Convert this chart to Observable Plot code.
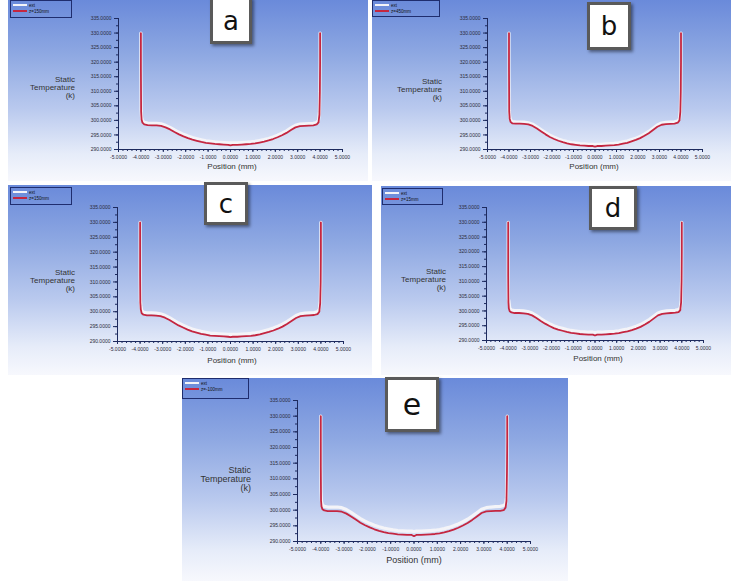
<!DOCTYPE html>
<html>
<head>
<meta charset="utf-8">
<script src="https://cdn.jsdelivr.net/npm/d3@7"></script>
<script src="https://cdn.jsdelivr.net/npm/@observablehq/plot@0.6"></script>
<style>
  html, body { margin: 0; padding: 0; background: #ffffff; }
  body { width: 731px; height: 581px; position: relative; overflow: hidden; font-family: "Liberation Sans", Arial, sans-serif; }
  .panel { position: absolute; background: linear-gradient(180deg, #6a8ada 0%, #8ea8e2 30%, #b9c9ee 60%, #e6ecf9 85%, #f7f8fd 100%); overflow: visible; }
  .panel svg { position: absolute; left: 0; top: 0; overflow: visible; }
  .ylab { position: absolute; text-align: right; color: #333; line-height: 1.0; }
  .xlab { position: absolute; color: #333; transform: translateX(-50%); white-space: nowrap; }
  .legend { position: absolute; border: 1px solid #1f2d6e; box-sizing: border-box; }
  .legend .row { position: absolute; left: 2px; height: 6px; display: flex; align-items: center; font-size: 4.5px; color: #111; white-space: nowrap; }
  .legend .sw { display: inline-block; width: 14px; height: 2px; margin-right: 2px; }
  .tag { position: absolute; background: #fff; border: 3px solid #5a5a5a; box-sizing: border-box; box-shadow: 2px 2px 3px rgba(0,0,0,0.45); display: flex; align-items: center; justify-content: center; font-family: "DejaVu Sans", sans-serif; color: #111; }
</style>
</head>
<body>
<script>
// ---- data ----
const positions = [-4.00, -4.00, -3.99, -3.97, -3.93, -3.85, -3.7, -3.5, -3.3, -3.1, -2.9, -2.7, -2.5, -2.3, -2.1, -1.9, -1.7, -1.5, -1.3, -1.1, -0.9, -0.7, -0.5, -0.3, -0.1, 0.0, 0.1, 0.3, 0.5, 0.7, 0.9, 1.1, 1.3, 1.5, 1.7, 1.9, 2.1, 2.3, 2.5, 2.7, 2.9, 3.1, 3.3, 3.5, 3.7, 3.85, 3.93, 3.97, 3.99, 4.00, 4.00];

const aRed   = [330, 318, 303, 300.3, 299.2, 298.6, 298.4, 298.3, 298.3, 298.1, 297.6, 296.9, 296.0, 295.2, 294.5, 293.9, 293.4, 293.0, 292.6, 292.3, 292.1, 291.9, 291.8, 291.7, 291.6, 291.4, 291.6, 291.6, 291.7, 291.8, 291.9, 292.1, 292.4, 292.7, 293.1, 293.6, 294.2, 294.9, 295.7, 296.7, 297.6, 298.0, 298.1, 298.2, 298.3, 298.6, 299.3, 302, 310, 320, 330];
const aWhite = [330, 318, 303.5, 301, 299.9, 299.3, 299.1, 299.0, 299.0, 298.8, 298.3, 297.6, 296.7, 295.9, 295.2, 294.6, 294.1, 293.7, 293.3, 293.0, 292.8, 292.6, 292.5, 292.4, 292.3, 292.3, 292.3, 292.3, 292.4, 292.5, 292.6, 292.8, 293.1, 293.4, 293.8, 294.3, 294.9, 295.6, 296.4, 297.4, 298.3, 298.7, 298.8, 298.9, 299.0, 299.3, 300, 303, 310, 320, 330];

const bRed   = [330, 318, 303, 300.6, 299.5, 299.0, 298.9, 298.9, 298.8, 298.6, 298.1, 297.2, 296.2, 295.2, 294.3, 293.6, 293.0, 292.5, 292.1, 291.8, 291.6, 291.4, 291.3, 291.2, 291.2, 291.0, 291.2, 291.2, 291.3, 291.4, 291.5, 291.7, 292.0, 292.3, 292.8, 293.3, 293.9, 294.7, 295.6, 296.7, 297.8, 298.5, 298.7, 298.8, 298.9, 299.2, 300, 303, 310, 320, 330];
const bWhite = [330, 318, 303.5, 301.5, 300.2, 299.6, 299.5, 299.4, 299.4, 299.2, 298.7, 297.8, 296.8, 295.8, 294.9, 294.2, 293.6, 293.1, 292.7, 292.4, 292.2, 292.0, 291.9, 291.8, 291.8, 291.7, 291.8, 291.8, 291.9, 292.0, 292.1, 292.3, 292.6, 292.9, 293.4, 293.9, 294.5, 295.3, 296.2, 297.3, 298.4, 299.1, 299.3, 299.4, 299.5, 299.8, 300.6, 303.5, 310, 320, 330];

const cRed   = [330, 312, 303, 300.8, 299.5, 299.0, 298.8, 298.8, 298.7, 298.5, 298.0, 297.2, 296.3, 295.4, 294.7, 294.0, 293.4, 293.0, 292.6, 292.3, 292.0, 291.9, 291.8, 291.7, 291.6, 291.5, 291.6, 291.6, 291.7, 291.8, 291.9, 292.1, 292.4, 292.8, 293.2, 293.7, 294.3, 295.0, 295.9, 296.9, 297.9, 298.5, 298.7, 298.8, 298.9, 299.2, 300, 303, 310, 320, 330];
const cWhite = [330, 312, 304, 302.2, 300.5, 299.8, 299.6, 299.6, 299.5, 299.3, 298.8, 298.0, 297.1, 296.2, 295.5, 294.8, 294.2, 293.8, 293.4, 293.1, 292.8, 292.7, 292.6, 292.5, 292.4, 292.4, 292.4, 292.4, 292.5, 292.6, 292.7, 292.9, 293.2, 293.6, 294.0, 294.5, 295.1, 295.8, 296.7, 297.7, 298.7, 299.3, 299.5, 299.6, 299.7, 300.0, 300.8, 303.5, 310, 320, 330];

const dRed   = [330, 312, 303, 300.8, 299.9, 299.5, 299.3, 299.3, 299.2, 299.0, 298.5, 297.6, 296.6, 295.7, 294.9, 294.2, 293.7, 293.3, 292.9, 292.6, 292.4, 292.2, 292.1, 292.0, 292.0, 291.7, 292.0, 292.0, 292.1, 292.2, 292.3, 292.5, 292.8, 293.1, 293.5, 294.0, 294.6, 295.4, 296.3, 297.4, 298.5, 299.0, 299.2, 299.3, 299.4, 299.6, 300.3, 303, 310, 320, 330];
const dWhite = [330, 312, 304, 303.5, 301, 300.3, 300.1, 300.1, 300.0, 299.8, 299.3, 298.4, 297.4, 296.5, 295.7, 295.0, 294.5, 294.1, 293.7, 293.4, 293.2, 293.0, 292.9, 292.8, 292.8, 292.7, 292.8, 292.8, 292.9, 293.0, 293.1, 293.3, 293.6, 293.9, 294.3, 294.8, 295.4, 296.2, 297.1, 298.2, 299.3, 299.8, 300.0, 300.1, 300.2, 300.5, 301, 303.5, 310, 320, 330];

const eRed   = [330, 314, 303, 301.2, 300.3, 299.9, 299.7, 299.7, 299.7, 299.5, 298.9, 298.0, 297.0, 296.0, 295.2, 294.5, 293.9, 293.4, 293.0, 292.7, 292.5, 292.3, 292.2, 292.1, 292.1, 291.7, 292.1, 292.1, 292.2, 292.3, 292.4, 292.6, 292.9, 293.3, 293.8, 294.4, 295.1, 295.9, 296.9, 298.0, 299.1, 299.6, 299.7, 299.8, 299.8, 300.0, 300.8, 303, 312, 322, 330];
const eWhite = [330, 314, 306, 302.8, 301.6, 301.2, 301.0, 301.0, 301.0, 300.8, 300.2, 299.3, 298.3, 297.3, 296.5, 295.8, 295.2, 294.7, 294.3, 294.0, 293.7, 293.5, 293.4, 293.3, 293.3, 293.2, 293.3, 293.3, 293.4, 293.5, 293.6, 293.8, 294.1, 294.5, 295.0, 295.6, 296.3, 297.1, 298.1, 299.2, 300.3, 300.8, 301.0, 301.1, 301.2, 301.5, 302, 304, 312, 322, 330];

const panelLetters = ["a", "b", "c", "d", "e"];
const seriesNames = ["ext", "z=150mm"];
const legendSecond = ["z=150mm", "z=450mm", "z=150mm", "z=15mm", "z=-100mm"];
const yTicks = [290, 295, 300, 305, 310, 315, 320, 325, 330, 335];
const xTicks = [-5, -4, -3, -2, -1, 0, 1, 2, 3, 4, 5];
const yTitleLines = ["Static", "Temperature", "(k)"];
const xTitle = "Position (mm)";

// ---- layout (positions/styles only) ----
const layouts = [
  {red: aRed, white: aWhite, left: 8, top: 0, w: 360, h: 181, mL: 110, mR: 26, mT: 18, mB: 32, ylabR: 67, ylabT: 76, ylabFs: 8, xlabX: 224, xlabY: 162, xlabFs: 8, leg: [2, 0, 62, 18], tag: [202, -3, 42, 47, 26]},
  {red: bRed, white: bWhite, left: 372, top: 0, w: 359, h: 181, mL: 115, mR: 29, mT: 18, mB: 32, ylabR: 70, ylabT: 78, ylabFs: 8, xlabX: 222, xlabY: 162, xlabFs: 8, leg: [0, 0, 68, 17], tag: [215, 2, 44, 48, 26]},
  {red: cRed, white: cWhite, left: 8, top: 185, w: 364, h: 190, mL: 109, mR: 29, mT: 22, mB: 34, ylabR: 67, ylabT: 84, ylabFs: 8, xlabX: 224, xlabY: 171, xlabFs: 8, leg: [2, 2, 62, 18], tag: [196, -3, 44, 43, 26]},
  {red: dRed, white: dWhite, left: 381, top: 186, w: 350, h: 189, mL: 105, mR: 28, mT: 21, mB: 35, ylabR: 65, ylabT: 82, ylabFs: 8, xlabX: 217, xlabY: 168, xlabFs: 8, leg: [1, 2, 61, 17], tag: [208, 0, 48, 44, 26]},
  {red: eRed, white: eWhite, left: 182, top: 378, w: 386, h: 203, mL: 115, mR: 38, mT: 22, mB: 40, ylabR: 69, ylabT: 88, ylabFs: 9, xlabX: 232, xlabY: 177, xlabFs: 9, leg: [0, 0, 67, 21], tag: [203, -1, 54, 55, 30]}
];

const axisColor = "#1d2a5e";
const redColor = "#c42640";
const whiteColor = "#f4f4f8";
const yMinor = d3.range(290, 335.01, 2.5);
const xMinor = d3.range(-5, 5.001, 0.2).map(v => +v.toFixed(2));

layouts.forEach((L, i) => {
  const div = document.createElement("div");
  div.className = "panel";
  Object.assign(div.style, {left: L.left + "px", top: L.top + "px", width: L.w + "px", height: L.h + "px"});
  document.body.appendChild(div);

  const data = positions.map((x, k) => ({x, red: L.red[k], white: L.white[k]}));

  const chart = Plot.plot({
    width: L.w,
    height: L.h,
    marginLeft: L.mL, marginRight: L.mR, marginTop: L.mT, marginBottom: L.mB,
    style: {background: "transparent", fontFamily: "Liberation Sans, Arial, sans-serif", overflow: "visible"},
    x: {domain: [-5, 5]},
    y: {domain: [290, 335]},
    marks: [
      Plot.axisY({ticks: yMinor, tickSize: 2, tickFormat: () => "", label: null, color: axisColor}),
      Plot.axisY({ticks: yTicks, tickSize: 4, tickPadding: 3, tickFormat: d => d.toFixed(4), fontSize: 5, label: null, color: axisColor, fill: "#2b2b3a"}),
      Plot.axisX({ticks: xMinor, tickSize: 2, tickFormat: () => "", label: null, color: axisColor}),
      Plot.axisX({ticks: xTicks, tickSize: 3, tickPadding: 3, tickFormat: d => d.toFixed(4), fontSize: 5, label: null, color: axisColor, fill: "#2b2b3a"}),
      Plot.ruleX([-5], {stroke: axisColor, strokeWidth: 1}),
      Plot.ruleY([290], {stroke: axisColor, strokeWidth: 1}),
      Plot.line(data, {x: "x", y: "white", stroke: whiteColor, strokeWidth: 3.2, curve: "linear"}),
      Plot.line(data, {x: "x", y: "red", stroke: redColor, strokeWidth: 1.8, curve: "linear"})
    ]
  });
  div.appendChild(chart);

  // y title
  const yl = document.createElement("div");
  yl.className = "ylab";
  yl.style.right = (L.w - L.ylabR) + "px";
  yl.style.top = L.ylabT + "px";
  yl.style.fontSize = L.ylabFs + "px";
  yl.innerHTML = yTitleLines.join("<br>");
  div.appendChild(yl);

  // x title
  const xl = document.createElement("div");
  xl.className = "xlab";
  xl.style.left = L.xlabX + "px";
  xl.style.top = L.xlabY + "px";
  xl.style.fontSize = L.xlabFs + "px";
  xl.textContent = xTitle;
  div.appendChild(xl);

  // legend
  const lg = document.createElement("div");
  lg.className = "legend";
  Object.assign(lg.style, {left: L.leg[0] + "px", top: L.leg[1] + "px", width: L.leg[2] + "px", height: L.leg[3] + "px"});
  const labels = [seriesNames[0], legendSecond[i]];
  const colors = [whiteColor, redColor];
  labels.forEach((t, k) => {
    const r = document.createElement("div");
    r.className = "row";
    r.style.top = (1 + k * 6) + "px";
    r.innerHTML = `<span class="sw" style="background:${colors[k]}"></span><span>${t}</span>`;
    lg.appendChild(r);
  });
  div.appendChild(lg);

  // tag
  const tg = document.createElement("div");
  tg.className = "tag";
  Object.assign(tg.style, {left: L.tag[0] + "px", top: L.tag[1] + "px", width: L.tag[2] + "px", height: L.tag[3] + "px", fontSize: L.tag[4] + "px"});
  tg.textContent = panelLetters[i];
  div.appendChild(tg);
});
</script>
</body>
</html>
